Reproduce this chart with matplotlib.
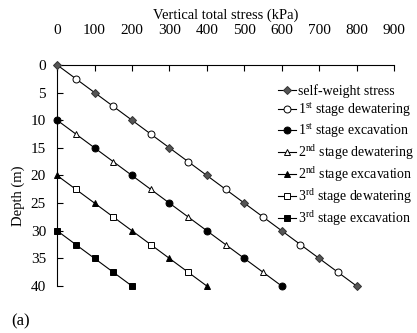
import matplotlib
matplotlib.use("Agg")
import matplotlib.pyplot as plt
import numpy as np

plt.rcParams["font.family"] = "Liberation Serif"
plt.rcParams["mathtext.fontset"] = "custom"
plt.rcParams["mathtext.rm"] = "Liberation Serif"
plt.rcParams["font.size"] = 11

# (stress kPa, depth m) for each series
sw_x = [0, 100, 200, 300, 400, 500, 600, 700, 800]
sw_y = [0, 5, 10, 15, 20, 25, 30, 35, 40]
d1_x = [50, 150, 250, 350, 450, 550, 650, 750]
d1_y = [2.5, 7.5, 12.5, 17.5, 22.5, 27.5, 32.5, 37.5]
e1_x = [0, 100, 200, 300, 400, 500, 600]
e1_y = [10, 15, 20, 25, 30, 35, 40]
d2_x = [50, 150, 250, 350, 450, 550]
d2_y = [12.5, 17.5, 22.5, 27.5, 32.5, 37.5]
e2_x = [0, 100, 200, 300, 400]
e2_y = [20, 25, 30, 35, 40]
d3_x = [50, 150, 250, 350]
d3_y = [22.5, 27.5, 32.5, 37.5]
e3_x = [0, 50, 100, 150, 200]
e3_y = [30, 32.5, 35, 37.5, 40]

labels = ["self-weight stress",
          r"1$^{\rm st}$ stage dewatering",
          r"1$^{\rm st}$ stage excavation",
          r"2$^{\rm nd}$ stage dewatering",
          r"2$^{\rm nd}$ stage excavation",
          r"3$^{\rm rd}$ stage dewatering",
          r"3$^{\rm rd}$ stage excavation"]

fig = plt.figure(figsize=(4.17, 3.33), dpi=100)
ax = fig.add_axes([0.137, 0.141, 0.808, 0.664])

lw = 0.8
ms = 5
# lines along each stress profile
ax.plot([0, 800], [0, 40], color="black", lw=lw, zorder=1)
ax.plot([0, 600], [10, 40], color="black", lw=lw, zorder=1)
ax.plot([0, 400], [20, 40], color="black", lw=lw, zorder=1)
ax.plot([0, 200], [30, 40], color="black", lw=lw, zorder=1)

series = [
    (sw_x, sw_y, "D", "#555555", "#333333", ms - 0.5),
    (d1_x, d1_y, "o", "white", "black", ms),
    (e1_x, e1_y, "o", "black", "black", ms),
    (d2_x, d2_y, "^", "white", "black", ms),
    (e2_x, e2_y, "^", "black", "black", ms),
    (d3_x, d3_y, "s", "white", "black", ms),
    (e3_x, e3_y, "s", "black", "black", ms),
]
handles = []
for (x, y, m, fc, ec, s), lab in zip(series, labels):
    ax.plot(x, y, ls="none", marker=m, mfc=fc, mec=ec, ms=s, mew=0.7,
            zorder=3, clip_on=False)
    h, = ax.plot([], [], color="black", lw=lw, marker=m, mfc=fc, mec=ec,
                 ms=s, mew=0.7, label=lab)
    handles.append(h)

ax.set_xlim(0, 900)
ax.set_ylim(40, 0)
ax.set_xticks(np.arange(0, 901, 100))
ax.set_yticks(np.arange(0, 41, 5))
ax.xaxis.tick_top()
ax.xaxis.set_label_position("top")
ax.tick_params(axis="x", direction="in", length=4, width=0.8, pad=20)
ax.tick_params(axis="y", direction="in", length=4, width=0.8, pad=8)
ax.spines["right"].set_visible(False)
ax.spines["bottom"].set_visible(False)
ax.spines["top"].set_linewidth(0.8)
ax.spines["left"].set_linewidth(0.8)
ax.set_xlabel("Vertical total stress (kPa)", labelpad=4, fontsize=10.5)
ax.set_ylabel("Depth (m)", fontsize=10.5)
ax.yaxis.set_label_coords(-0.095, 0.41)

ax.legend(handles=handles, loc="upper left", bbox_to_anchor=(0.656, 0.915),
          frameon=False, handlelength=1.3, handletextpad=0.15,
          labelspacing=0.17, borderaxespad=0, borderpad=0, fontsize=10)

fig.text(0.028, 0.024, "(a)", fontsize=12)

fig.savefig("out.png", dpi=100)
